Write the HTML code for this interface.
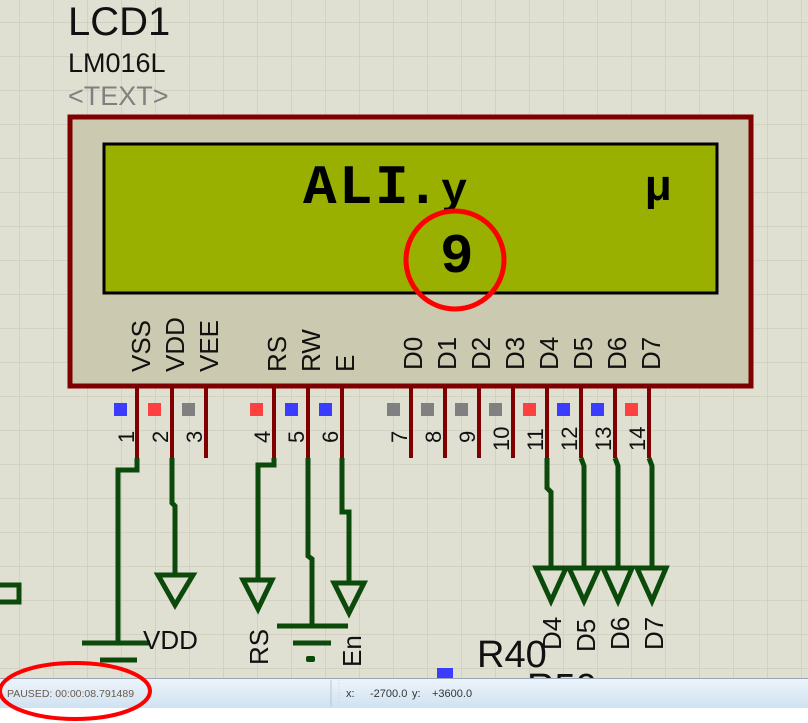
<!DOCTYPE html>
<html><head><meta charset="utf-8"><style>
html,body{margin:0;padding:0;width:808px;height:723px;overflow:hidden;background:#fff}
svg{display:block}
</style></head><body>
<svg width="808" height="723" viewBox="0 0 808 723" xmlns="http://www.w3.org/2000/svg" font-family="Liberation Sans, sans-serif">
<defs>
<pattern id="g" x="19" y="22" width="34" height="34" patternUnits="userSpaceOnUse">
<path d="M0 0H34M0 0V34" stroke="#c4c4b4" stroke-width="1" fill="none"/>
</pattern>
</defs>
<rect x="0" y="0" width="808" height="680" fill="#e0e0d2"/>
<rect x="0" y="0" width="808" height="680" fill="url(#g)"/>

<text x="68" y="35" font-size="40" fill="#111">LCD1</text>
<text x="68" y="72" font-size="27" fill="#111">LM016L</text>
<text x="68" y="105" font-size="27" fill="#808080">&lt;TEXT&gt;</text>

<!-- LCD body -->
<rect x="70" y="117" width="681" height="269" fill="#cbcab0" stroke="#7f0000" stroke-width="5"/>
<rect x="104" y="144" width="613" height="149" fill="#99b000" stroke="#000" stroke-width="3"/>
<g style="font-family:'Liberation Mono',monospace;font-weight:bold" font-size="56" fill="#000">
<text x="303" y="203">A</text><text x="339" y="203">L</text><text x="375" y="203">I</text><text x="406" y="203">.</text>
<text x="441" y="203" font-size="44">y</text>
<text x="645" y="200" font-size="44">μ</text>
<text x="440" y="272">9</text>
</g>
<circle cx="455" cy="260" r="49" fill="none" stroke="#f00" stroke-width="5"/>

<!-- pin labels -->
<g font-size="26" fill="#111">
<text transform="translate(150,372) rotate(-90)">VSS</text>
<text transform="translate(184,372) rotate(-90)">VDD</text>
<text transform="translate(218,372) rotate(-90)">VEE</text>
<text transform="translate(286,372) rotate(-90)">RS</text>
<text transform="translate(320,372) rotate(-90)">RW</text>
<text transform="translate(354,372) rotate(-90)">E</text>
<text transform="translate(422,370) rotate(-90)">D0</text>
<text transform="translate(456,370) rotate(-90)">D1</text>
<text transform="translate(490,370) rotate(-90)">D2</text>
<text transform="translate(524,370) rotate(-90)">D3</text>
<text transform="translate(558,370) rotate(-90)">D4</text>
<text transform="translate(592,370) rotate(-90)">D5</text>
<text transform="translate(626,370) rotate(-90)">D6</text>
<text transform="translate(660,370) rotate(-90)">D7</text>
</g>

<!-- pins -->
<g stroke="#7f0000" stroke-width="4">
<path d="M137 388V458M172 388V458M206 388V458M274 388V458M308 388V458M342 388V458M411 388V458M445 388V458M479 388V458M513 388V458M547 388V458M581 388V458M615 388V458M649 388V458"/>
</g>
<g>
<rect x="114" y="403" width="13" height="13" fill="#3c3cff"/>
<rect x="148" y="403" width="13" height="13" fill="#ff4040"/>
<rect x="182" y="403" width="13" height="13" fill="#808080"/>
<rect x="250" y="403" width="13" height="13" fill="#ff4040"/>
<rect x="285" y="403" width="13" height="13" fill="#3c3cff"/>
<rect x="319" y="403" width="13" height="13" fill="#3c3cff"/>
<rect x="387" y="403" width="13" height="13" fill="#808080"/>
<rect x="421" y="403" width="13" height="13" fill="#808080"/>
<rect x="455" y="403" width="13" height="13" fill="#808080"/>
<rect x="489" y="403" width="13" height="13" fill="#808080"/>
<rect x="523" y="403" width="13" height="13" fill="#ff4040"/>
<rect x="557" y="403" width="13" height="13" fill="#3c3cff"/>
<rect x="591" y="403" width="13" height="13" fill="#3c3cff"/>
<rect x="625" y="403" width="13" height="13" fill="#ff4040"/>
</g>
<g font-size="22" fill="#111">
<text transform="translate(134,443) rotate(-90)">1</text>
<text transform="translate(168,443) rotate(-90)">2</text>
<text transform="translate(202,443) rotate(-90)">3</text>
<text transform="translate(270,443) rotate(-90)">4</text>
<text transform="translate(304,443) rotate(-90)">5</text>
<text transform="translate(338,443) rotate(-90)">6</text>
<text transform="translate(407,443) rotate(-90)">7</text>
<text transform="translate(441,443) rotate(-90)">8</text>
<text transform="translate(475,443) rotate(-90)">9</text>
<text transform="translate(509,451) rotate(-90)">10</text>
<text transform="translate(543,451) rotate(-90)">11</text>
<text transform="translate(577,451) rotate(-90)">12</text>
<text transform="translate(611,451) rotate(-90)">13</text>
<text transform="translate(645,451) rotate(-90)">14</text>
</g>

<!-- wires -->
<g stroke="#0b4a0b" stroke-width="5" fill="none" stroke-linejoin="miter">
<path d="M137 458V470H118V643"/>
<path d="M82 643H150M100 660H137"/>
<path d="M172 458V503L175 506V575"/>
<path d="M158 575H193L175 605Z"/>
<path d="M274 458V465H258V580"/>
<path d="M243 580H272L258 609Z"/>
<path d="M308 458V556L312 559V626"/>
<path d="M277 626H348M293 643H331"/>
<path d="M342 458V512H349V583"/>
<path d="M334 583H364L349 613Z"/>
<path d="M547 458V488L551 492V568"/>
<path d="M536 568H566L551 601Z"/>
<path d="M581 458L584 466V568"/>
<path d="M569 568H599L584 601Z"/>
<path d="M615 458L618 466V568"/>
<path d="M603 568H632L618 601Z"/>
<path d="M649 458L652 466V568"/>
<path d="M637 568H666L652 601Z"/>
<path d="M-5 585H19V602H-5"/>
</g>
<rect x="306" y="656" width="9" height="6" rx="2" fill="#0b4a0b"/>

<text x="143" y="649" font-size="26" fill="#111">VDD</text>
<g font-size="26" fill="#111">
<text transform="translate(268,665) rotate(-90)">RS</text>
<text transform="translate(361,667) rotate(-90)">En</text>
<text transform="translate(561,650) rotate(-90)">D4</text>
<text transform="translate(595,652) rotate(-90)">D5</text>
<text transform="translate(629,650) rotate(-90)">D6</text>
<text transform="translate(663,650) rotate(-90)">D7</text>
</g>
<text x="477" y="667" font-size="38" fill="#111">R40</text>
<text x="527" y="700" font-size="38" fill="#111">R50</text>
<rect x="437" y="668" width="16" height="12" fill="#3c3cff"/>

<!-- status bar -->
<defs><linearGradient id="sb" x1="0" y1="0" x2="0" y2="1">
<stop offset="0" stop-color="#eef5fb"/><stop offset="1" stop-color="#cfe2f1"/></linearGradient></defs>
<rect x="0" y="678" width="808" height="30" fill="url(#sb)"/>
<line x1="0" y1="678.5" x2="808" y2="678.5" stroke="#9aa8b5"/>
<line x1="331" y1="680" x2="331" y2="707" stroke="#b8c4d0"/>
<line x1="339" y1="680" x2="339" y2="707" stroke="#c8d2dc" stroke-dasharray="1 2"/>
<rect x="0" y="708" width="808" height="15" fill="#fff"/>
<text x="7" y="697" font-size="10.5" fill="#6a5a4a">PAUSED: 00:00:08.791489</text>
<text x="346" y="697" font-size="11" fill="#333">x:</text>
<text x="370" y="697" font-size="11" fill="#333">-2700.0</text>
<text x="412" y="697" font-size="11" fill="#333">y:</text>
<text x="432" y="697" font-size="11" fill="#333">+3600.0</text>
<ellipse cx="75" cy="691" rx="75" ry="28" fill="none" stroke="#f00" stroke-width="4"/>
</svg>
</body></html>
